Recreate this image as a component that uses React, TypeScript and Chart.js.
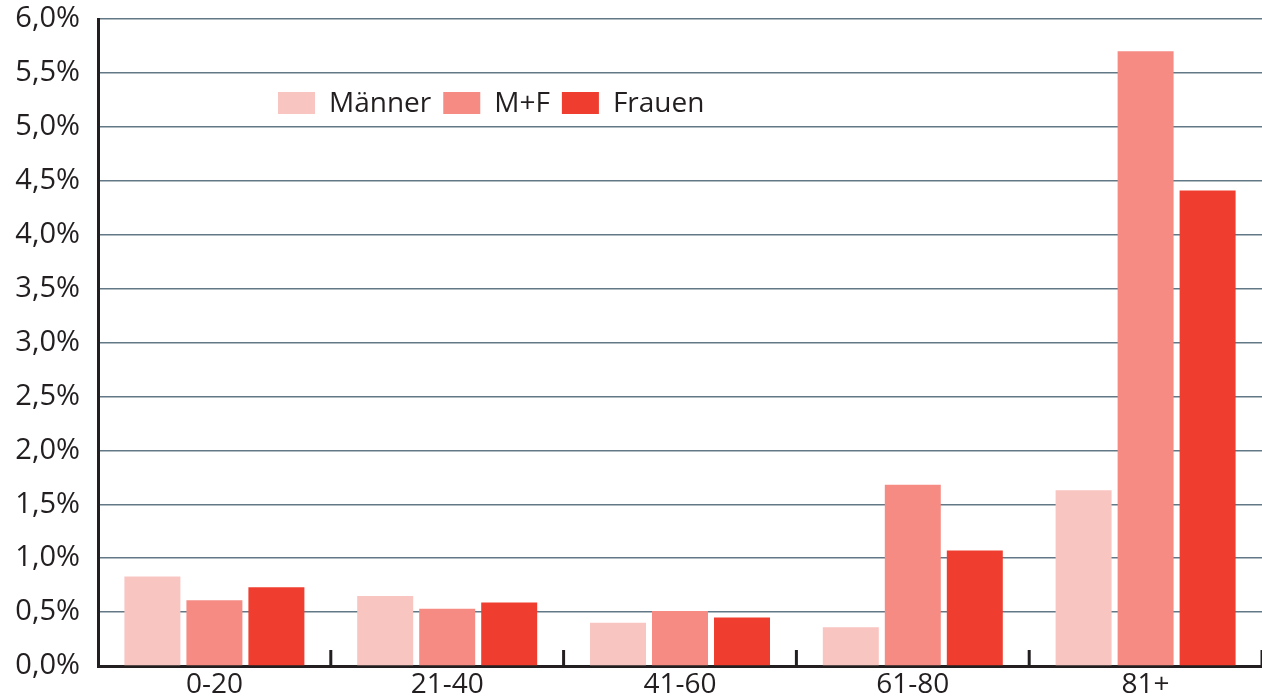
import React, { useEffect, useRef } from "react";
import { Chart, registerables } from "chart.js";

Chart.register(...registerables);

const categories = ["0-20", "21-40", "41-60", "61-80", "81+"];
const maenner = [0.83, 0.65, 0.4, 0.36, 1.63];
const mplusf = [0.61, 0.53, 0.51, 1.68, 5.7];
const frauen = [0.73, 0.59, 0.45, 1.07, 4.41];
const seriesLabels = ["Männer", "M+F", "Frauen"];
const seriesColors = ["#f9c5c1", "#f68b83", "#ef3e2f"];

const FONT = "'Open Sans', sans-serif";
const INK = "#231f20";

const upTicksPlugin = {
  id: "upTicks",
  afterDraw(chart: any) {
    const x = chart.scales.x;
    const area = chart.chartArea;
    const ctx = chart.ctx;
    const n = chart.data.labels.length;
    const half = (area.right - area.left) / n / 2;
    ctx.save();
    ctx.strokeStyle = INK;
    ctx.lineWidth = 3;
    for (let i = 0; i < n; i++) {
      const px = x.getPixelForTick(i) + half;
      ctx.beginPath();
      ctx.moveTo(px, area.bottom);
      ctx.lineTo(px, area.bottom - 16);
      ctx.stroke();
    }
    ctx.restore();
  },
};

const legendPlugin = {
  id: "innerLegend",
  afterDraw(chart: any) {
    const ctx = chart.ctx;
    const area = chart.chartArea;
    let xPos = area.left + 180;
    const yc = area.top + 84;
    ctx.save();
    ctx.font = `28px ${FONT}`;
    ctx.textBaseline = "middle";
    ctx.fillStyle = INK;
    chart.data.datasets.forEach((ds: any) => {
      ctx.fillStyle = ds.backgroundColor;
      ctx.fillRect(xPos, yc - 11, 37, 22);
      xPos += 37 + 14;
      ctx.fillStyle = INK;
      ctx.fillText(ds.label, xPos, yc + 1);
      xPos += ctx.measureText(ds.label).width + 12;
    });
    ctx.restore();
  },
};

export default function App() {
  const ref = useRef<HTMLCanvasElement>(null);
  useEffect(() => {
    if (!ref.current) return;
    const values = [maenner, mplusf, frauen];
    const chart = new Chart(ref.current, {
      type: "bar",
      data: {
        labels: categories,
        datasets: seriesLabels.map((label, i) => ({
          label,
          data: values[i],
          backgroundColor: seriesColors[i],
          borderWidth: 0,
          barPercentage: 0.903,
          categoryPercentage: 0.799,
        })),
      },
      options: {
        animation: false,
        responsive: false,
        layout: { padding: { top: 19, right: 0, bottom: 0, left: 0 } },
        plugins: { legend: { display: false }, tooltip: { enabled: false } },
        scales: {
          x: {
            z: 1,
            grid: { display: false, drawTicks: false },
            border: { display: true, color: INK, width: 3 },
            ticks: { color: INK, font: { family: FONT, size: 28 }, padding: 2 },
            afterFit(scale: any) {
              scale.height = 34;
              scale.paddingLeft = 0;
              scale.paddingRight = 0;
            },
          },
          y: {
            z: 1,
            min: 0,
            max: 6,
            ticks: {
              stepSize: 0.5,
              color: INK,
              font: { family: FONT, size: 29 },
              padding: 18,
              callback: (v: any) => Number(v).toFixed(1).replace(".", ",") + "%",
            },
            grid: { color: "rgba(45,75,95,0.75)", lineWidth: 1.5, drawTicks: false },
            border: { display: true, color: INK, width: 3 },
            afterFit(scale: any) {
              scale.width = 98;
              scale.paddingTop = 0;
              scale.paddingBottom = 0;
            },
          },
        },
      },
      plugins: [upTicksPlugin, legendPlugin],
    });
    return () => chart.destroy();
  }, []);
  return (
    <div style={{ position: "fixed", left: 0, top: 0, width: 1262, height: 700, background: "#fff" }}>
      <canvas ref={ref} width={1262} height={700} />
    </div>
  );
}
